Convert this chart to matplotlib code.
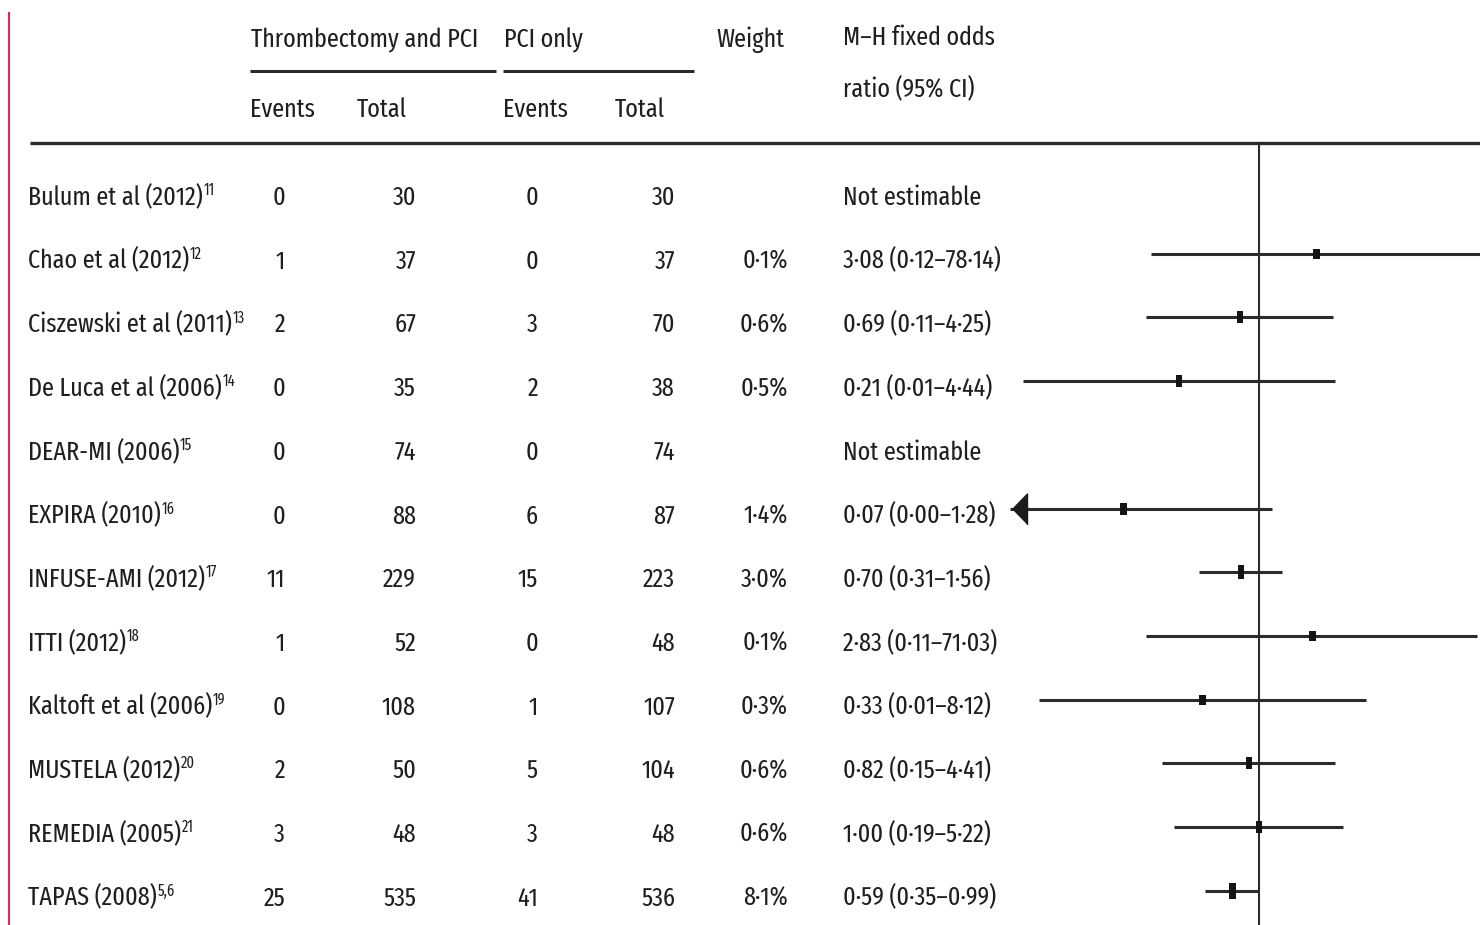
import matplotlib
matplotlib.use("Agg")
import matplotlib.pyplot as plt
from matplotlib import font_manager

# ---- trial data ---------------------------------------------------------
studies = ["Bulum et al (2012)", "Chao et al (2012)", "Ciszewski et al (2011)",
           "De Luca et al (2006)", "DEAR-MI (2006)", "EXPIRA (2010)",
           "INFUSE-AMI (2012)", "ITTI (2012)", "Kaltoft et al (2006)",
           "MUSTELA (2012)", "REMEDIA (2005)", "TAPAS (2008)"]
refs = ["11", "12", "13", "14", "15", "16", "17", "18", "19", "20", "21", "5,6"]
thromb_events = [0, 1, 2, 0, 0, 0, 11, 1, 0, 2, 3, 25]
thromb_total = [30, 37, 67, 35, 74, 88, 229, 52, 108, 50, 48, 535]
pci_events = [0, 0, 3, 2, 0, 6, 15, 0, 1, 5, 3, 41]
pci_total = [30, 37, 70, 38, 74, 87, 223, 48, 107, 104, 48, 536]
weights = [None, 0.1, 0.6, 0.5, None, 1.4, 3.0, 0.1, 0.3, 0.6, 0.6, 8.1]
odds_ratio = [None, 3.08, 0.69, 0.21, None, 0.07, 0.70, 2.83, 0.33, 0.82, 1.00, 0.59]
ci_low = [None, 0.12, 0.11, 0.0099, None, 0.004, 0.31, 0.11, 0.0134, 0.15, 0.19, 0.35]
ci_high = [None, 78.14, 4.25, 4.44, None, 1.28, 1.56, 71.03, 8.12, 4.41, 5.22, 0.99]

# ---- font: a tightly condensed humanist sans --------------------------------
available = {f.name for f in font_manager.fontManager.ttflist}
FONT = "DejaVu Sans"
for cand in ["Fira Sans Extra Condensed", "Barlow Condensed", "PT Sans Narrow",
             "Fira Sans Condensed", "Roboto Condensed", "Archivo Narrow"]:
    if cand in available:
        FONT = cand
        break
plt.rcParams["font.family"] = [FONT, "DejaVu Sans"]

TXT = "#1f1f1f"
INK = "#2b2b2b"

W, H = 1480, 925
fig = plt.figure(figsize=(W / 100, H / 100), dpi=100)
fig.patch.set_facecolor("white")
renderer = fig.canvas.get_renderer()

# size the type so a few key strings span roughly their column widths
probe_specs = [("Bulum et al (2012)", 158), ("Thrombectomy and PCI", 214),
               ("3\u00b708 (0\u00b712\u201378\u00b714)", 154)]
ratios = []
for s, target in probe_specs:
    t = fig.text(0, 0, s, fontsize=20)
    ratios.append(target / t.get_window_extent(renderer=renderer).width)
    t.remove()
FS = 1.07 * 20 * sum(ratios) / len(ratios)
SUP_FS = FS * 0.6

# table axes in pixel-like coordinates
ax = fig.add_axes([0, 0, 1, 1])
ax.set_xlim(0, W)
ax.set_ylim(H, 0)
ax.axis("off")

# forest plot axes on a log odds-ratio scale
FX0 = 1010
fax = fig.add_axes([FX0 / W, 0, (W - FX0) / W, 1])
fax.set_xscale("log")
fax.set_xlim(0.0076, 76)
fax.set_ylim(H, 0)
fax.axis("off")
fax.patch.set_alpha(0)

ROW0, STEP = 190, 63.7
rows = [ROW0 + STEP * i for i in range(len(studies))]


def dotted(s):
    return s.replace(".", "\u00b7")


# left accent rule
ax.plot([9, 9], [12, H], color="#c8375a", lw=1.6, solid_capstyle="butt")

# column headers
hdr = dict(fontsize=FS, color=TXT, va="baseline", ha="left")
ax.text(251, 47, "Thrombectomy and PCI", **hdr)
ax.text(504, 47, "PCI only", **hdr)
ax.text(716, 47, "Weight", **hdr)
ax.text(843, 45, "M\u2013H fixed odds", **hdr)
ax.text(843, 97, "ratio (95% CI)", **hdr)
ax.plot([250, 496], [71, 71], color=INK, lw=2.2, solid_capstyle="butt")
ax.plot([503, 694], [71, 71], color=INK, lw=2.2, solid_capstyle="butt")
ax.text(250, 117, "Events", **hdr)
ax.text(357, 117, "Total", **hdr)
ax.text(503, 117, "Events", **hdr)
ax.text(615, 117, "Total", **hdr)
ax.plot([30, W], [143, 143], color=INK, lw=2.4, solid_capstyle="butt")

# table body
for i, y in enumerate(rows):
    base = y + 15
    name = ax.text(28, base, studies[i], fontsize=FS, color=TXT, va="baseline", ha="left")
    ax.annotate(refs[i], xy=(1, 1), xycoords=name, xytext=(0.5, 1.5), textcoords="offset points",
                fontsize=SUP_FS, color=TXT, ha="left", va="top")
    ax.text(285, base, str(thromb_events[i]), fontsize=FS, color=TXT, va="baseline", ha="right")
    ax.text(416, base, str(thromb_total[i]), fontsize=FS, color=TXT, va="baseline", ha="right")
    ax.text(538, base, str(pci_events[i]), fontsize=FS, color=TXT, va="baseline", ha="right")
    ax.text(675, base, str(pci_total[i]), fontsize=FS, color=TXT, va="baseline", ha="right")
    if odds_ratio[i] is None:
        ax.text(843, base, "Not estimable", fontsize=FS, color=TXT, va="baseline", ha="left")
        continue
    ax.text(788, base, dotted(f"{weights[i]:.1f}%"), fontsize=FS, color=TXT,
            va="baseline", ha="right")
    ax.text(843, base, dotted(f"{odds_ratio[i]:.2f} ({ci_low[i]:.2f}\u2013{ci_high[i]:.2f})"),
            fontsize=FS, color=TXT, va="baseline", ha="left")

# line of no effect
fax.plot([1, 1], [143, H], color=INK, lw=1.5, zorder=2)

# confidence intervals and point estimates
xmin, xmax = fax.get_xlim()
for i, y in enumerate(rows):
    if odds_ratio[i] is None:
        continue
    lo = max(ci_low[i], xmin)
    fax.plot([lo, ci_high[i]], [y, y], color=INK, lw=2.2, solid_capstyle="butt", zorder=3)
    if ci_low[i] < xmin:
        tri = [(0, 0), (15, 15.5), (15, -15.5)]
        fax.plot([xmin * 1.04], [y], marker=tri, markersize=31 * 0.72, color="#1a1a1a",
                 linestyle="none", clip_on=False, zorder=4)
    h = 9.5 + 2.5 * weights[i] ** 0.5
    w = 7.0
    rect = [(-w / 2, -h / 2), (w / 2, -h / 2), (w / 2, h / 2), (-w / 2, h / 2), (-w / 2, -h / 2)]
    fax.plot([odds_ratio[i]], [y], marker=rect, markersize=max(h, w) * 0.72,
             color="#141414", markeredgewidth=0, linestyle="none", zorder=5)

fig.savefig("out.png", dpi=100, facecolor="white")
